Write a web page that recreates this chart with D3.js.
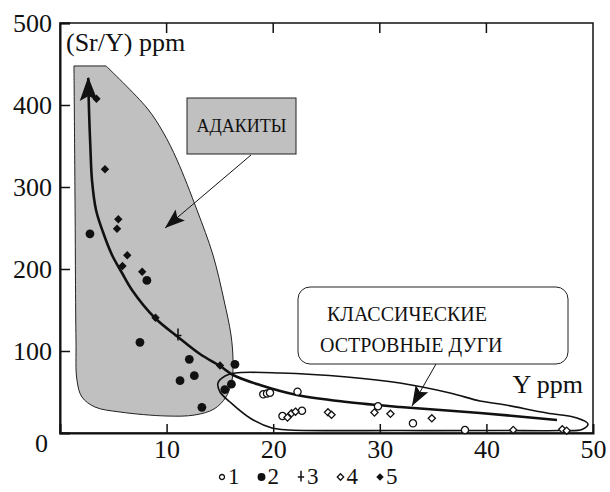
<!DOCTYPE html>
<meta charset="utf-8">
<head>
<style>
  body { margin: 0; background: #fff; }
  svg { display: block; }
</style>
</head>
<body>
<svg id="chart" width="610" height="492"></svg>
<script src="https://d3js.org/d3.v7.min.js"></script>
<script>

// data: [Y ppm, Sr/Y]
var series1 = [[19.07,47.2],[19.42,48.2],[19.70,49.1],[22.28,50.4],[20.87,20.7],[22.70,27.1],
               [29.83,32.6],[33.11,11.8],[37.99,3.7]];                       // open circles
var series2 = [[2.81,242.9],[8.15,186.1],[7.50,110.6],[12.13,89.9],[11.26,63.8],[12.60,69.9],
               [13.31,31.3],[16.41,83.8],[16.08,59.5],[15.46,52.9]];         // filled circles
var series3 = [[11.07,118.9]];                                               // plus
var series4 = [[21.34,18.9],[21.72,24.0],[22.09,26.0],[25.14,25.2],[25.47,22.2],[29.50,25.0],
               [31.00,23.4],[34.88,17.9],[42.52,3.7],[47.12,4.5],[47.53,2.8]]; // open diamonds
var series5 = [[3.42,407.6],[4.22,321.6],[5.47,260.6],[5.35,249.0],[6.31,216.8],[5.86,203.7],
               [7.71,196.7],[8.96,140.5],[15.01,82.3]];                      // filled diamonds

// adakite field outline (starts at top-right corner, ends at top-left)
var adakiteField = [[4.32,447.6],[8.16,396.3],[9.66,367.1],[10.98,332.9],[12.85,271.9],[14.35,217.1],
                    [15.38,162.2],[16.04,119.5],[16.23,89.0],[16.14,64.6],[15.57,43.9],[14.45,29.3],
                    [12.66,22.0],[10.04,20.7],[5.63,25.6],[3.28,31.7],[2.06,43.9],[1.59,64.6],
                    [1.50,113.4],[1.41,284.1],[1.31,447.6]];
// island arc field (closed loop)
var arcField = [[14.82,61.0],[15.48,69.5],[16.42,73.2],[20.64,73.2],[26.92,68.3],[31.89,61.0],
                [36.59,48.8],[39.40,39.0],[41.28,35.4],[45.68,24.4],[48.50,18.3],[49.53,11.0],
                [48.97,4.3],[46.90,3.0],[41.28,3.0],[31.89,3.0],[21.58,3.7],[19.89,6.1],
                [17.82,18.3],[15.95,37.8],[15.01,50.0]];
// trend curve (from arrow head downwards)
var trend = [[2.65,432.9],[2.72,393.9],[2.86,345.1],[3.00,308.5],[3.38,272.0],[4.03,245.1],
             [4.88,217.1],[5.82,195.1],[6.75,174.4],[8.91,140.2],[11.07,117.1],[13.13,96.3],
             [15.01,81.7],[16.23,70.7],[18.76,58.5],[22.23,46.3],[26.92,37.8],[31.89,31.7],
             [39.40,24.4],[46.62,15.9]];

var yTicks = [0, 100, 200, 300, 400, 500];
var xTicks = [10, 20, 30, 40, 50];
var legendLabels = ["1", "2", "3", "4", "5"];

var svg = d3.select("#chart");
var x = d3.scaleLinear().domain([0, 50]).range([60, 593]);
var y = d3.scaleLinear().domain([0, 500]).range([433, 23]);

var defs = svg.append("defs");
defs.append("marker").attr("id", "bighead")
  .attr("markerUnits", "userSpaceOnUse").attr("orient", "auto-start-reverse")
  .attr("markerWidth", 24).attr("markerHeight", 20)
  .attr("viewBox", "0 -8 20 16").attr("refX", 19).attr("refY", 0)
  .append("path").attr("d", "M0,-7.5L20,0L0,7.5L4,0Z").attr("fill", "#111");
defs.append("marker").attr("id", "thinhead")
  .attr("markerUnits", "userSpaceOnUse").attr("orient", "auto")
  .attr("markerWidth", 20).attr("markerHeight", 16)
  .attr("viewBox", "0 -7 18 14").attr("refX", 18).attr("refY", 0)
  .append("path").attr("d", "M0,-6.5L18,0L0,6.5L3.5,0Z").attr("fill", "#111");

// fields
var lineCR = d3.line().x(d => x(d[0])).y(d => y(d[1])).curve(d3.curveCatmullRom.alpha(0.5));
svg.append("path")
  .attr("d", lineCR(adakiteField) + "Z")
  .attr("fill", "#c0c0c0").attr("stroke", "#222").attr("stroke-width", 1);

svg.append("path")
  .attr("d", d3.line().x(d => x(d[0])).y(d => y(d[1])).curve(d3.curveCatmullRomClosed.alpha(0.5))(arcField))
  .attr("fill", "none").attr("stroke", "#111").attr("stroke-width", 1.6);

// frame
svg.append("rect").attr("x", x(0)).attr("y", y(500))
  .attr("width", x(50) - x(0)).attr("height", y(0) - y(500))
  .attr("fill", "none").attr("stroke", "#111").attr("stroke-width", 1.5);

var yAxis = svg.append("g")
  .attr("transform", "translate(" + x(0) + ",0)")
  .call(d3.axisLeft(y).tickValues(yTicks).tickSize(-10).tickPadding(8));
yAxis.select(".domain").attr("stroke", "#111").attr("stroke-width", 2);
yAxis.selectAll("line").attr("stroke", "#111").attr("stroke-width", 1.5);
yAxis.selectAll(".tick").filter(d => d === 0).select("text").attr("x", -12).attr("dy", "0.7em");
yAxis.selectAll(".tick").filter(d => d === 0).select("line").remove();

var xAxis = svg.append("g")
  .attr("transform", "translate(0," + y(0) + ")")
  .call(d3.axisBottom(x).tickValues(xTicks).tickSize(-9).tickPadding(7));
xAxis.select(".domain").attr("stroke", "#111").attr("stroke-width", 2);
xAxis.selectAll("line").attr("stroke", "#111").attr("stroke-width", 1.5);
xAxis.selectAll(".tick").filter(d => d === 50).select("line").remove();

[yAxis, xAxis].forEach(function (a) {
  a.attr("font-family", "Liberation Serif").attr("font-size", 26);
});

// top ticks
svg.append("g").selectAll("line").data(xTicks.filter(d => d < 50)).join("line")
  .attr("x1", d => x(d)).attr("x2", d => x(d))
  .attr("y1", y(500)).attr("y2", y(500) + 10)
  .attr("stroke", "#111").attr("stroke-width", 1.5);

// trend curve with arrow
svg.append("path")
  .attr("d", d3.line().x(d => x(d[0])).y(d => y(d[1])).curve(d3.curveCatmullRom.alpha(0.5))(trend))
  .attr("fill", "none").attr("stroke", "#111").attr("stroke-width", 2.6)
  .attr("marker-start", "url(#bighead)");

// axis titles
svg.append("text").attr("x", 66).attr("y", 51).attr("font-size", 26).text("(Sr/Y) ppm");
svg.append("text").attr("x", 583).attr("y", 393).attr("text-anchor", "end").attr("font-size", 26).text("Y ppm");

// annotation boxes
svg.append("rect").attr("x", 187).attr("y", 98).attr("width", 109).attr("height", 56)
  .attr("fill", "#c0c0c0").attr("stroke", "#222").attr("stroke-width", 1);
svg.append("text").attr("x", 241.5).attr("y", 132).attr("text-anchor", "middle")
  .attr("font-size", 18).text("АДАКИТЫ");
svg.append("line").attr("x1", 251).attr("y1", 155).attr("x2", 165).attr("y2", 228)
  .attr("stroke", "#111").attr("stroke-width", 1).attr("marker-end", "url(#thinhead)");

svg.append("rect").attr("x", 298).attr("y", 287).attr("width", 270).attr("height", 77)
  .attr("rx", 12).attr("fill", "#fff").attr("stroke", "#222").attr("stroke-width", 1);
svg.append("text").attr("x", 327).attr("y", 321).attr("font-size", 20).text("КЛАССИЧЕСКИЕ");
svg.append("text").attr("x", 320).attr("y", 352).attr("font-size", 20).text("ОСТРОВНЫЕ ДУГИ");
svg.append("line").attr("x1", 436).attr("y1", 364).attr("x2", 412).attr("y2", 406)
  .attr("stroke", "#111").attr("stroke-width", 1).attr("marker-end", "url(#thinhead)");

// point markers
function drawMarker(g, type, s) {
  if (type === 1) {
    g.append("circle").attr("r", 3.6 * s).attr("fill", "#fff").attr("stroke", "#111").attr("stroke-width", 1.3);
  } else if (type === 2) {
    g.append("circle").attr("r", 4.4 * s).attr("fill", "#111");
  } else if (type === 3) {
    g.append("path").attr("d", "M0," + (-7 * s) + "V" + (5 * s) + "M" + (-3.5 * s) + ",0H" + (3.5 * s))
      .attr("stroke", "#111").attr("stroke-width", 1.5).attr("fill", "none");
  } else if (type === 4) {
    var r = 3.6 * s;
    g.append("path").attr("d", "M0," + (-r) + "L" + r + ",0L0," + r + "L" + (-r) + ",0Z")
      .attr("fill", "#fff").attr("stroke", "#111").attr("stroke-width", 1.3);
  } else {
    var r2 = 4.2 * s;
    g.append("path").attr("d", "M0," + (-r2) + "L" + r2 + ",0L0," + r2 + "L" + (-r2) + ",0Z")
      .attr("fill", "#111");
  }
}

[series1, series2, series3, series4, series5].forEach(function (ser, i) {
  svg.append("g").selectAll("g").data(ser).join("g")
    .attr("transform", d => "translate(" + x(d[0]) + "," + y(d[1]) + ")")
    .each(function () { drawMarker(d3.select(this), i + 1, 1); });
});

// legend
var legendX = d3.scalePoint().domain(legendLabels).range([222, 380]);
var lg = svg.append("g").selectAll("g").data(legendLabels).join("g")
  .attr("transform", d => "translate(" + legendX(d) + ",477)");
lg.each(function (d, i) { drawMarker(d3.select(this), i + 1, i === 0 ? 0.7 : 0.9); });
lg.append("text").attr("x", 6).attr("y", 7).attr("font-size", 23).text(d => d);

svg.selectAll("text").attr("font-family", "Liberation Serif").attr("fill", "#111");

</script>
</body>
